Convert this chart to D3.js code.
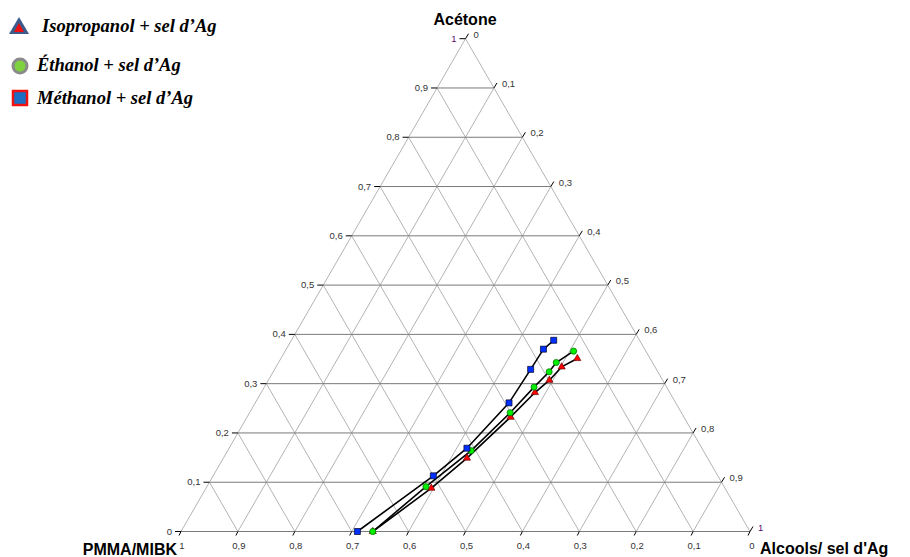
<!DOCTYPE html>
<html>
<head>
<meta charset="utf-8">
<script src="https://cdn.jsdelivr.net/npm/d3@7"></script>
<style>
  body { margin: 0; background: #fff; }
  svg { display: block; }
  .tick text { font-family: Arial, "Liberation Sans", sans-serif; font-size: 9.5px; fill: #333; }
  .axis-title { font-family: Arial, "Liberation Sans", sans-serif; font-weight: bold; font-size: 16px; fill: #000; }
  .legend text { font-family: "Times New Roman", "Liberation Serif", serif; font-weight: bold; font-style: italic; font-size: 18.5px; fill: #000; }
</style>
</head>
<body>
<svg id="chart" width="910" height="557"></svg>
<script>
// grid ticks (fractions)
const ticks = [0, 0.1, 0.2, 0.3, 0.4, 0.5, 0.6, 0.7, 0.8, 0.9, 1];

// Méthanol + sel d'Ag : acetone / alcool fractions
const methAcetone = [0, 0.113, 0.169, 0.261, 0.329, 0.370, 0.388];
const methAlcool  = [0.310, 0.387, 0.418, 0.446, 0.450, 0.452, 0.461];
// Éthanol + sel d'Ag
const ethAcetone = [0, 0.091, 0.164, 0.241, 0.293, 0.324, 0.343, 0.366];
const ethAlcool  = [0.337, 0.385, 0.428, 0.458, 0.474, 0.485, 0.488, 0.507];
// Isopropanol + sel d'Ag
const isoAcetone = [0, 0.088, 0.149, 0.232, 0.282, 0.307, 0.334, 0.351];
const isoAlcool  = [0.337, 0.396, 0.428, 0.463, 0.481, 0.494, 0.502, 0.521];

const svg = d3.select("#chart");

// ternary -> cartesian via linear scales
const xScale = d3.scaleLinear().domain([0, 1]).range([181, 750]);
const yScale = d3.scaleLinear().domain([0, 1]).range([531.5, 38.7]);
const px = (a, l) => xScale(l + a / 2);
const py = (a) => yScale(a);

const fmt = v => (v === 0 || v === 1) ? String(v) : d3.format(".1f")(v).replace(".", ",");

const grid = svg.append("g");
// slanted grid lines (constant alcool) and (constant PMMA)
ticks.forEach(t => {
    grid.append("line")
        .attr("x1", px(0, t)).attr("y1", py(0))
        .attr("x2", px(1 - t, t)).attr("y2", py(1 - t))
        .attr("stroke", "#b4b4b4").attr("stroke-width", 1);
    grid.append("line")
        .attr("x1", px(0, 1 - t)).attr("y1", py(0))
        .attr("x2", px(1 - t, 0)).attr("y2", py(1 - t))
        .attr("stroke", "#b4b4b4").attr("stroke-width", 1);
});
// horizontal grid lines (constant acetone)
ticks.slice(0, 10).forEach(t => {
    grid.append("line")
        .attr("x1", px(t, 0)).attr("y1", py(t))
        .attr("x2", px(t, 1 - t)).attr("y2", py(t))
        .attr("stroke", "#7a7a7a").attr("stroke-width", 1);
});

// tick marks + labels
const tk = svg.append("g").attr("class", "tick");
ticks.forEach(t => {
    // left side: acetone
    let x = px(t, 0), y = py(t);
    tk.append("line").attr("x1", x - 6).attr("y1", y).attr("x2", x).attr("y2", y).attr("stroke", "#000");
    tk.append("text").attr("x", x - 9).attr("y", y + 3).attr("text-anchor", "end")
        .style("fill", t === 1 ? "#5a0a6e" : "#333").text(fmt(t));
    // right side: alcool
    x = px(1 - t, t); y = py(1 - t);
    tk.append("line").attr("x1", x).attr("y1", y).attr("x2", x + 3).attr("y2", y - 5).attr("stroke", "#000");
    tk.append("text").attr("x", x + 8).attr("y", y - 1).attr("text-anchor", "start")
        .style("fill", t === 1 ? "#5a0a6e" : "#333").text(fmt(t));
    // bottom: pmma
    x = px(0, 1 - t); y = py(0);
    tk.append("line").attr("x1", x).attr("y1", y).attr("x2", x - 2).attr("y2", y + 4).attr("stroke", "#000");
    tk.append("text").attr("x", x + (t === 0 ? 2 : 1)).attr("y", y + 17).attr("text-anchor", "middle").text(fmt(t));
});

// axis titles
svg.append("text").attr("class", "axis-title").attr("x", 465).attr("y", 25).attr("text-anchor", "middle").text("Acétone");
svg.append("text").attr("class", "axis-title").attr("x", 177).attr("y", 555).attr("text-anchor", "end").text("PMMA/MIBK");
svg.append("text").attr("class", "axis-title").attr("x", 760).attr("y", 554).attr("text-anchor", "start").text("Alcools/ sel d'Ag");

// series
const line = d3.line().x(d => px(d[0], d[1])).y(d => py(d[0]));
const series = [
    {name: "iso", a: isoAcetone, l: isoAlcool, sym: d3.symbolTriangle, size: 22, fill: "#ff0000", stroke: "#600"},
    {name: "eth", a: ethAcetone, l: ethAlcool, sym: d3.symbolCircle, size: 30, fill: "#00ee00", stroke: "#060"},
    {name: "meth", a: methAcetone, l: methAlcool, sym: d3.symbolSquare, size: 36, fill: "#0030ff", stroke: "#002"}
];
series.forEach(s => {
    const pts = s.a.map((a, i) => [a, s.l[i]]);
    svg.append("path").datum(pts).attr("d", line)
        .attr("fill", "none").attr("stroke", "#000").attr("stroke-width", 1.6);
});
series.forEach(s => {
    const pts = s.a.map((a, i) => [a, s.l[i]]);
    svg.append("g").selectAll("path").data(pts).join("path")
        .attr("transform", d => "translate(" + px(d[0], d[1]) + "," + py(d[0]) + ")")
        .attr("d", d3.symbol().type(s.sym).size(s.size))
        .attr("fill", s.fill).attr("stroke", s.stroke).attr("stroke-width", 0.7);
});

// legend
const lg = svg.append("g").attr("class", "legend");
lg.append("path").attr("d", "M19,17 L29,34 L9,34 Z").attr("fill", "#3c5a8a");
lg.append("path").attr("d", "M19,23 L24,32 L14,32 Z").attr("fill", "#ee1111");
lg.append("text").attr("x", 42).attr("y", 32).text("Isopropanol + sel d’Ag");
lg.append("circle").attr("cx", 20).attr("cy", 66).attr("r", 7).attr("fill", "#7ed23e").attr("stroke", "#8a8a8a").attr("stroke-width", 3);
lg.append("text").attr("x", 37).attr("y", 71).text("Éthanol + sel d’Ag");
lg.append("rect").attr("x", 13).attr("y", 91).attr("width", 14).attr("height", 14).attr("fill", "#1a6fc4").attr("stroke", "#ee1111").attr("stroke-width", 2.5);
lg.append("text").attr("x", 37).attr("y", 104).text("Méthanol + sel d’Ag");
</script>
</body>
</html>
